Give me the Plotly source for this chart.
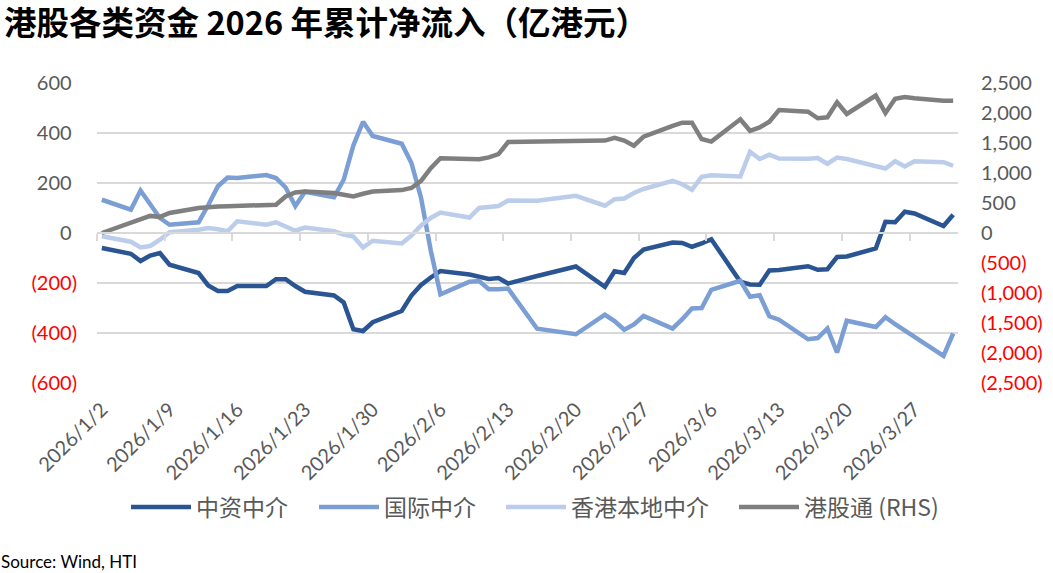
import plotly.graph_objects as go

dates = [
    "2026-01-02", "2026-01-05", "2026-01-06", "2026-01-07", "2026-01-08", "2026-01-09",
    "2026-01-12", "2026-01-13", "2026-01-14", "2026-01-15", "2026-01-16",
    "2026-01-19", "2026-01-20", "2026-01-21", "2026-01-22", "2026-01-23",
    "2026-01-26", "2026-01-27", "2026-01-28", "2026-01-29", "2026-01-30",
    "2026-02-02", "2026-02-03", "2026-02-04", "2026-02-05", "2026-02-06",
    "2026-02-09", "2026-02-10", "2026-02-11", "2026-02-12", "2026-02-13",
    "2026-02-16", "2026-02-20",
    "2026-02-23", "2026-02-24", "2026-02-25", "2026-02-26", "2026-02-27",
    "2026-03-02", "2026-03-03", "2026-03-04", "2026-03-05", "2026-03-06",
    "2026-03-09", "2026-03-10", "2026-03-11", "2026-03-12", "2026-03-13",
    "2026-03-16", "2026-03-17", "2026-03-18", "2026-03-19", "2026-03-20",
    "2026-03-23", "2026-03-24", "2026-03-25", "2026-03-26", "2026-03-27",
    "2026-03-30", "2026-03-31",
]

zhongzi = [
    -60, -83, -112, -90, -80, -127,
    -160, -210, -232, -232, -212,
    -212, -185, -185, -212, -235,
    -250, -278, -385, -392, -357,
    -312, -250, -208, -178, -152,
    -166, -176, -184, -180, -202,
    -172, -134,
    -215, -153, -160, -100, -66,
    -38, -40, -55, -42, -25,
    -195, -206, -207, -150, -148,
    -133, -147, -145, -96, -94,
    -62, 45, 43, 85, 78,
    28, 73,
]

guoji = [
    133, 93, 170, 113, 60, 33,
    43, 112, 187, 222, 220,
    232, 220, 182, 108, 165,
    143, 213, 350, 445, 388,
    357, 280, 140, -70, -245,
    -195, -192, -225, -225, -222,
    -383, -405,
    -327, -352, -387, -366, -332,
    -382, -345, -302, -300, -227,
    -191, -255, -249, -333, -347,
    -425, -420, -382, -478, -351,
    -376, -337, -365, -390, -415,
    -492, -402,
]

bendi = [
    -13, -35, -58, -52, -27, 3,
    13, 20, 15, 7, 47,
    33, 43, 26, 9, 22,
    7, -6, -14, -58, -31,
    -42, -10, 30, 60, 82,
    62, 100, 105, 108, 130,
    129, 149,
    109, 135, 138, 160, 176,
    209, 195, 173, 225, 231,
    226, 325, 296, 313, 298,
    297, 300, 277, 302, 296,
    267, 258, 287, 266, 287,
    283, 269,
]

ganggutong = [
    0, 176, 221, 285, 268, 333,
    415, 432, 440, 447, 454,
    462, 471, 609, 675, 690,
    665, 637, 609, 654, 692,
    715, 750, 870, 1080, 1247,
    1225, 1230, 1260, 1315, 1515,
    1523, 1523,
    1541, 1588, 1541, 1455, 1607,
    1787, 1839, 1839, 1566, 1523,
    1896, 1704, 1760, 1856, 2050,
    2022, 1912, 1929, 2180, 1984,
    2291, 2000, 2236, 2267, 2245,
    2206, 2206,
]

series_names = ["中资中介", "国际中介", "香港本地中介", "港股通 (RHS)"]
series_colors = ["#2A5592", "#7B9ED5", "#BCCDEB", "#7F7F7F"]

tick_dates = [
    "2026-01-02", "2026-01-09", "2026-01-16", "2026-01-23", "2026-01-30",
    "2026-02-06", "2026-02-13", "2026-02-20", "2026-02-27",
    "2026-03-06", "2026-03-13", "2026-03-20", "2026-03-27",
]
tick_labels = [
    "2026/1/2", "2026/1/9", "2026/1/16", "2026/1/23", "2026/1/30",
    "2026/2/6", "2026/2/13", "2026/2/20", "2026/2/27",
    "2026/3/6", "2026/3/13", "2026/3/20", "2026/3/27",
]
tick_marks = [
    "2026-01-01 12:00", "2026-01-08 12:00", "2026-01-15 12:00", "2026-01-22 12:00",
    "2026-01-29 12:00", "2026-02-05 12:00", "2026-02-12 12:00", "2026-02-19 12:00",
    "2026-02-26 12:00", "2026-03-05 12:00", "2026-03-12 12:00", "2026-03-19 12:00",
    "2026-03-26 12:00",
]
x_range = ["2026-01-01 12:00", "2026-03-31 12:00"]

left_ticks = [-600, -400, -200, 0, 200, 400, 600]
right_ticks = [-2500, -2000, -1500, -1000, -500, 0, 500, 1000, 1500, 2000, 2500]

NUM_FONT = "Lato"
CJK_FONT = "Noto Sans CJK SC"
GREY_TXT = "#595959"
RED = "#FF0000"
HIDE = "<span style='color:rgba(0,0,0,0)'>)</span>"

W, H = 1053, 573
ML, MR, MT, MB = 97, 95, 83, 190
PW, PH = W - ML - MR, H - MT - MB

# legend entry left edges (pixels) and their vertical centre
legend_x_px = [126, 314, 501, 734]
legend_y_px = 507


def px_to_paper_x(px):
    return (px - ML) / PW


def py_to_paper_y(py):
    return (H - MB - py) / PH


def left_label(v):
    if v < 0:
        return f"<span style='color:{RED}'>({abs(v):,})</span>"
    return f"{v:,}{HIDE}"


def right_label(v):
    if v < 0:
        return f"<span style='color:{RED}'>({abs(v):,})</span>"
    return f"{v:,}"


legend_ids = ["legend", "legend2", "legend3", "legend4"]

fig = go.Figure()
for i, (name, vals, col) in enumerate(zip(series_names[:3], [zhongzi, guoji, bendi],
                                          series_colors[:3])):
    fig.add_trace(go.Scatter(
        x=dates, y=vals, name=name, mode="lines",
        line=dict(color=col, width=4.5), yaxis="y", xaxis="x",
        legend=legend_ids[i],
    ))
fig.add_trace(go.Scatter(
    x=dates, y=ganggutong, name=series_names[3], mode="lines",
    line=dict(color=series_colors[3], width=4.5), yaxis="y2", xaxis="x",
    legend=legend_ids[3],
))
# carrier for the zero-line axis with tick marks
fig.add_trace(go.Scatter(x=[], y=[], xaxis="x2", yaxis="y", showlegend=False,
                         hoverinfo="skip"))

legend_common = dict(
    orientation="h", xref="container", yref="container",
    xanchor="left", y=1 - legend_y_px / H, yanchor="middle",
    font=dict(family=CJK_FONT, size=23, color=GREY_TXT),
    itemwidth=60, bgcolor="rgba(0,0,0,0)",
)
legends = {}
for lid, lx in zip(legend_ids, legend_x_px):
    legends[lid] = dict(legend_common, x=lx / W)

fig.update_layout(
    width=W, height=H,
    paper_bgcolor="white", plot_bgcolor="white",
    margin=dict(l=ML, r=MR, t=MT, b=MB, autoexpand=False),
    showlegend=True,
    title=dict(
        text="港股各类资金 2026 年累计净流入（亿港元）",
        x=4 / W, xref="container", xanchor="left",
        y=1 - 24 / H, yref="container", yanchor="middle",
        font=dict(family=CJK_FONT, size=32.5, color="black", weight="bold"),
    ),
    xaxis=dict(
        type="date", range=x_range, automargin=False,
        tickvals=tick_dates, ticktext=tick_labels, tickangle=-45,
        tickfont=dict(family=NUM_FONT, size=20, color=GREY_TXT),
        ticks="outside", ticklen=6, tickcolor="rgba(0,0,0,0)",
        showgrid=False, showline=False, zeroline=False,
    ),
    xaxis2=dict(
        type="date", range=x_range, overlaying="x", anchor="free", position=0.5,
        side="bottom", tickvals=tick_marks, showticklabels=False, automargin=False,
        ticks="outside", ticklen=7, tickcolor="#D9D9D9", tickwidth=1.5,
        showline=True, linecolor="#D9D9D9", linewidth=1.5,
        showgrid=False, zeroline=False,
    ),
    yaxis=dict(
        range=[-600, 600], tickvals=left_ticks, automargin=False,
        ticktext=[left_label(v) for v in left_ticks],
        tickfont=dict(family=NUM_FONT, size=20, color=GREY_TXT),
        showgrid=True, gridcolor="#D9D9D9", gridwidth=1.5,
        zeroline=False, showline=False,
        ticks="outside", ticklen=15, tickcolor="rgba(0,0,0,0)",
    ),
    yaxis2=dict(
        range=[-2500, 2500], tickvals=right_ticks, automargin=False,
        ticktext=[right_label(v) for v in right_ticks],
        tickfont=dict(family=NUM_FONT, size=20, color=GREY_TXT),
        overlaying="y", side="right", showgrid=False, zeroline=False, showline=False,
        ticks="outside", ticklen=18, tickcolor="rgba(0,0,0,0)",
    ),
    annotations=[dict(
        text="Source: Wind, HTI", xref="paper", yref="paper",
        x=px_to_paper_x(0), xanchor="left", y=py_to_paper_y(561), yanchor="middle",
        xshift=-1, showarrow=False,
        font=dict(family=NUM_FONT, size=17, color="black"),
    )],
    **legends,
)

fig.write_html("out.html", post_script="document.body.style.margin='0';",
               config={"displayModeBar": False})
